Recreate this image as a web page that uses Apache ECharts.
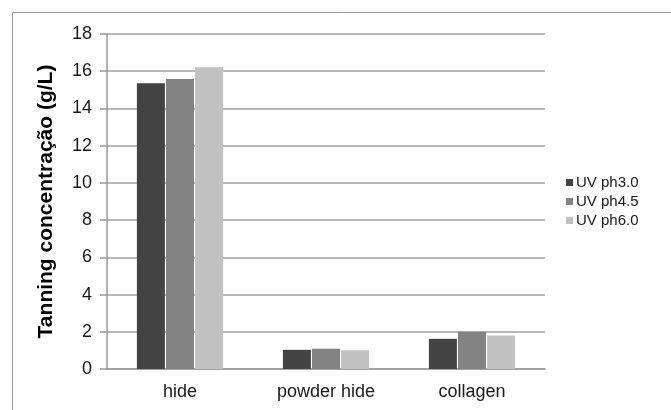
<!DOCTYPE html>
<html>
<head>
<meta charset="utf-8">
<script src="https://cdn.jsdelivr.net/npm/echarts@6/dist/echarts.min.js"></script>
<style>
  html, body { margin: 0; padding: 0; background: #ffffff; }
  #chart { width: 671px; height: 410px; }
</style>
</head>
<body>
<div id="chart"></div>
<script>
// Tanning concentration by substrate and UV pH condition
const categories = ['hide', 'powder hide', 'collagen'];
const seriesNames = ['UV ph3.0', 'UV ph4.5', 'UV ph6.0'];
const uvPh30 = [15.35, 1.03, 1.62];
const uvPh45 = [15.58, 1.09, 2.0];
const uvPh60 = [16.22, 1.0, 1.8];
const yTicks = [0, 2, 4, 6, 8, 10, 12, 14, 16, 18];

const colors = ['#434343', '#838383', '#c1c1c1'];
const values = [uvPh30, uvPh45, uvPh60];
const font = '"Liberation Sans", Arial, sans-serif';
const narrowFont = '"Liberation Sans Narrow", "Arial Narrow", sans-serif';

const chart = echarts.init(document.getElementById('chart'), null, { renderer: 'canvas' });

chart.setOption({
  animation: false,
  backgroundColor: '#ffffff',
  graphic: [{
    type: 'rect',
    shape: { x: 12.5, y: 12.5, width: 700, height: 450 },
    style: { fill: 'none', stroke: '#9a9a9a', lineWidth: 1 },
    silent: true
  }],
  grid: { left: 107, right: 126, top: 34, bottom: 41, containLabel: false },
  legend: {
    orient: 'vertical',
    left: 561,
    top: 170,
    icon: 'rect',
    itemWidth: 7,
    itemHeight: 7,
    itemGap: 4,
    textStyle: { fontFamily: font, fontSize: 15, color: '#1a1a1a', padding: [0, 0, 0, -2] },
    data: seriesNames
  },
  xAxis: {
    type: 'category',
    data: categories,
    axisLine: { lineStyle: { color: '#9a9a9a', width: 1.5 } },
    axisTick: { show: false },
    axisLabel: { fontFamily: font, fontSize: 18, color: '#1a1a1a', margin: 14 }
  },
  yAxis: {
    type: 'value',
    min: yTicks[0],
    max: yTicks[yTicks.length - 1],
    interval: yTicks[1] - yTicks[0],
    name: 'Tanning concentração (g/L)',
    nameLocation: 'middle',
    nameGap: 50,
    nameRotate: 90,
    nameTextStyle: { fontFamily: font, fontSize: 21, fontWeight: 'bold', color: '#000000' },
    axisLine: { show: true, lineStyle: { color: '#9a9a9a', width: 1.5 } },
    axisTick: { show: true, length: 7, lineStyle: { color: '#9a9a9a', width: 1.5 } },
    axisLabel: { fontFamily: narrowFont, fontSize: 18, color: '#1a1a1a', margin: 15 },
    splitLine: { show: true, lineStyle: { color: '#a0a0a0', width: 1.5 } }
  },
  series: seriesNames.map((name, i) => ({
    name: name,
    type: 'bar',
    data: values[i],
    barWidth: 28,
    barGap: '4%',
    itemStyle: { color: colors[i] }
  }))
});
</script>
</body>
</html>
